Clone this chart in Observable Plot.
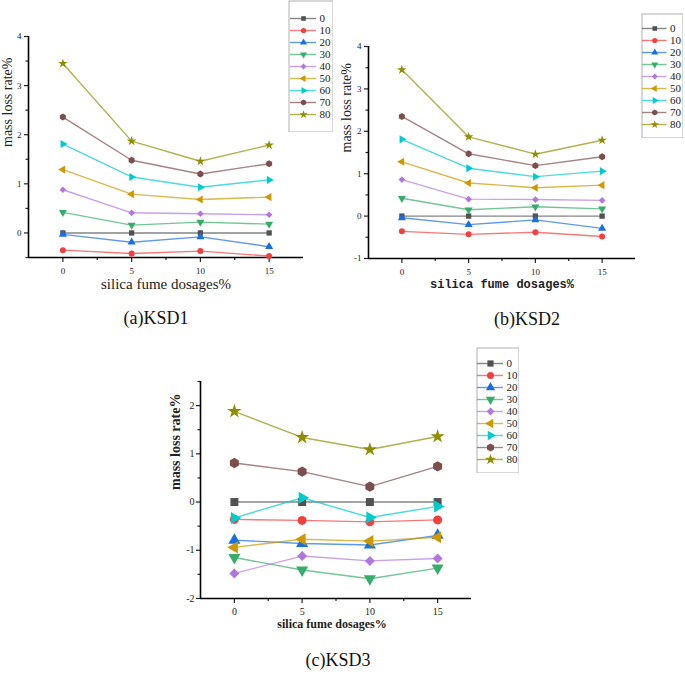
<!DOCTYPE html>
<html><head><meta charset="utf-8">
<script src="https://cdn.jsdelivr.net/npm/d3@7"></script>
<script src="https://cdn.jsdelivr.net/npm/@observablehq/plot@0.6"></script>
<style>
body{margin:0;background:#fff;}
#root{position:relative;width:685px;height:674px;overflow:hidden;background:#fff;}
</style></head><body><div id="root"></div>
<script>
// ---------- data ----------
const dosages = [0, 5, 10, 15];
const minorDosages = [2.5, 7.5, 12.5];
const series = ["0", "10", "20", "30", "40", "50", "60", "70", "80"];
const seriesColors = ["#515151", "#F14040", "#1A6FDF", "#37AD6B", "#B177DE", "#CC9900", "#00CBCC", "#7D4E4E", "#8E8E00"];

// rows follow `series`, columns follow `dosages`
const ksd1 = [
  [0, 0, 0, 0],
  [-0.35, -0.42, -0.37, -0.47],
  [-0.03, -0.19, -0.08, -0.28],
  [0.42, 0.16, 0.22, 0.18],
  [0.88, 0.41, 0.39, 0.37],
  [1.29, 0.79, 0.68, 0.73],
  [1.81, 1.14, 0.93, 1.08],
  [2.36, 1.48, 1.20, 1.41],
  [3.45, 1.87, 1.46, 1.79]
];
const ksd2 = [
  [0, 0, 0, 0],
  [-0.36, -0.43, -0.38, -0.48],
  [-0.04, -0.20, -0.09, -0.29],
  [0.42, 0.15, 0.22, 0.17],
  [0.86, 0.40, 0.39, 0.37],
  [1.28, 0.78, 0.67, 0.73],
  [1.81, 1.13, 0.93, 1.06],
  [2.35, 1.47, 1.19, 1.40],
  [3.45, 1.87, 1.46, 1.79]
];
const ksd3 = [
  [0, 0, 0, 0],
  [-0.36, -0.38, -0.41, -0.37],
  [-0.79, -0.86, -0.89, -0.69],
  [-1.15, -1.41, -1.59, -1.37],
  [-1.48, -1.12, -1.22, -1.17],
  [-0.94, -0.77, -0.81, -0.73],
  [-0.33, 0.09, -0.32, -0.09],
  [0.81, 0.63, 0.32, 0.74],
  [1.88, 1.34, 1.09, 1.36]
];
const yTicksA = [0, 1, 2, 3, 4];
const yTicksB = [-1, 0, 1, 2, 3, 4];
const yTicksC = [-2, -1, 0, 1, 2];
const yTitle = "mass loss rate%";
const xTitle = "silica fume dosages%";
const captions = ["(a)KSD1", "(b)KSD2", "(c)KSD3"];

// ---------- symbols ----------
function tri(angle) {
  return {
    draw(ctx, size) {
      const s = Math.sqrt(4 * size / Math.sqrt(3));
      const R = s / Math.sqrt(3);
      for (let k = 0; k < 3; k++) {
        const a = angle + k * 2 * Math.PI / 3;
        const x = R * Math.sin(a), y = -R * Math.cos(a);
        if (k) ctx.lineTo(x, y); else ctx.moveTo(x, y);
      }
      ctx.closePath();
    }
  };
}
const seriesSymbols = ["square", "circle", tri(0), tri(Math.PI), "diamond2", tri(-Math.PI / 2), tri(Math.PI / 2), "hexagon", "star"];

const SERIF = "'Liberation Serif', 'Times New Roman', serif";
const MONO = "'Liberation Mono', 'DejaVu Sans Mono', monospace";

const root = document.getElementById("root");
function place(el, left, top) {
  el.style.position = "absolute";
  el.style.left = left + "px";
  el.style.top = top + "px";
  root.appendChild(el);
}

function panel(o) {
  const rows = series.flatMap((s, i) => dosages.map((d, j) => ({series: s, dosage: d, value: o.values[i][j]})));
  const minorY = d3.range(o.yDomain[0], o.yDomain[1] + 0.001, 0.5).filter(v => !o.yTicks.includes(v));
  const chart = Plot.plot({
    width: o.width, height: o.height,
    marginLeft: o.mL, marginRight: o.mR, marginTop: o.mT, marginBottom: o.mB,
    style: {background: "transparent", fontFamily: SERIF, color: "#222"},
    x: {domain: [-2.5, 17.5]},
    y: {domain: o.yDomain},
    color: {domain: series, range: seriesColors},
    symbol: {domain: series, range: seriesSymbols},
    marks: [
      Plot.axisX({ticks: dosages, tickSize: 5, tickPadding: o.xPad, fontSize: o.tickFont, fontFamily: SERIF, tickFormat: d => String(d), label: null, strokeWidth: 1.2}),
      Plot.axisX({ticks: minorDosages, tickSize: 3, tickFormat: () => "", label: null, strokeWidth: 1.2}),
      Plot.axisY({ticks: o.yTicks, tickSize: 4, tickPadding: o.yPad, fontSize: o.tickFont, fontFamily: SERIF, tickFormat: d => String(d), label: null, strokeWidth: 1.2}),
      Plot.axisY({ticks: minorY, tickSize: 2.5, tickFormat: () => "", label: null, strokeWidth: 1.2}),
      Plot.ruleX([-2.5], {stroke: "#000", strokeWidth: 1.6}),
      Plot.ruleY([o.yDomain[0]], {stroke: "#000", strokeWidth: 1.6}),
      Plot.line(rows, {x: "dosage", y: "value", z: "series", stroke: "series", strokeWidth: 1.4, strokeOpacity: 0.7}),
      Plot.dot(rows, {x: "dosage", y: "value", symbol: "series", fill: "series", r: o.r}),
      Plot.text([yTitle], {text: d => d, frameAnchor: "left", dx: o.yTitleDx, rotate: -90, fontSize: 14, fontFamily: SERIF, fontWeight: o.yTitleWeight, fill: "#222"}),
      Plot.text([xTitle], {text: d => d, frameAnchor: "bottom", dx: o.xTitleDx, dy: o.xTitleDy, fontSize: o.xTitleSize, fontFamily: o.xTitleFamily, fontWeight: o.xTitleWeight, fill: "#222"}),
      Plot.text([o.caption], {text: d => d, frameAnchor: "bottom", dx: o.capDx, dy: o.capDy, fontSize: 18, fontFamily: SERIF, fill: "#111"})
    ]
  });
  place(chart, o.left, o.top);
}

function legend(o) {
  const chart = Plot.plot({
    width: o.width, height: o.height, margin: 0,
    style: {background: "#fff", fontFamily: SERIF, color: "#222"},
    x: {domain: [0, 1], range: o.lineRange, axis: null},
    y: {type: "point", domain: series, range: o.rowRange, axis: null},
    color: {domain: series, range: seriesColors},
    symbol: {domain: series, range: seriesSymbols},
    marks: [
      Plot.frame({stroke: "#b0b0b0", inset: 0.5}),
      Plot.ruleY(series, {y: d => d, x1: () => 0, x2: () => 1, stroke: d => d, strokeWidth: 1.4, strokeOpacity: 0.7}),
      Plot.dot(series, {x: () => 0.5, y: d => d, symbol: d => d, fill: d => d, r: o.r}),
      Plot.text(series, {x: () => 1, y: d => d, text: d => d, textAnchor: "start", dx: 3, fontSize: o.fontSize, fontFamily: SERIF, fill: "#222"})
    ]
  });
  place(chart, o.left, o.top);
}

panel({values: ksd1, left: 0, top: 0, width: 340, height: 340, mL: 28, mR: 37, mT: 36, mB: 83,
  yDomain: [-0.5, 4], yTicks: yTicksA, r: 3, tickFont: 9, xPad: 5, yPad: 3,
  yTitleDx: -21, yTitleWeight: "normal",
  xTitleDx: 0, xTitleDy: 31, xTitleSize: 15, xTitleFamily: SERIF, xTitleWeight: "normal",
  caption: captions[0], capDx: -10, capDy: 66});

panel({values: ksd2, left: 340, top: 0, width: 345, height: 340, mL: 28, mR: 50, mT: 46, mB: 82,
  yDomain: [-1, 4], yTicks: yTicksB, r: 3, tickFont: 9, xPad: 5, yPad: 3,
  yTitleDx: -22, yTitleWeight: "normal",
  xTitleDx: 0, xTitleDy: 29, xTitleSize: 12, xTitleFamily: MONO, xTitleWeight: "bold",
  caption: captions[1], capDx: 25, capDy: 66});

panel({values: ksd3, left: 160, top: 340, width: 360, height: 334, mL: 40, mR: 49, mT: 41, mB: 76,
  yDomain: [-2, 2.5], yTicks: yTicksC, r: 4.5, tickFont: 10, xPad: 4, yPad: 2,
  yTitleDx: -25, yTitleWeight: "bold",
  xTitleDx: -4, xTitleDy: 29, xTitleSize: 12, xTitleFamily: SERIF, xTitleWeight: "bold",
  caption: captions[2], capDx: 2, capDy: 67});

legend({left: 288, top: 0, width: 45, height: 132, rowRange: [9, 122.7], lineRange: [2, 28], r: 2.6, fontSize: 11});
legend({left: 641, top: 13, width: 42, height: 125, rowRange: [8.7, 117.7], lineRange: [1, 25.5], r: 2.6, fontSize: 11});
legend({left: 476, top: 347, width: 43, height: 126, rowRange: [8, 119.5], lineRange: [1, 27], r: 3.5, fontSize: 11});
</script></body></html>
